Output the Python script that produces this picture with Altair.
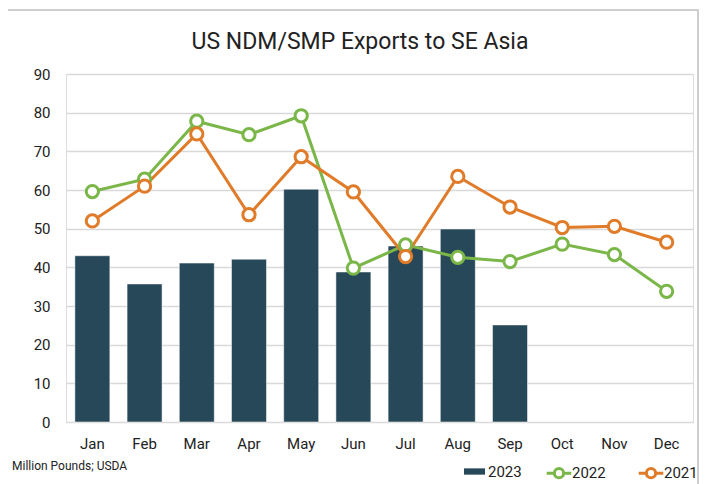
import altair as alt
import pandas as pd

title_text = "US NDM/SMP Exports to SE Asia"
note_text = "Million Pounds; USDA"
months = ["Jan", "Feb", "Mar", "Apr", "May", "Jun", "Jul", "Aug", "Sep", "Oct", "Nov", "Dec"]
v2023 = [43.0, 35.7, 41.1, 42.1, 60.2, 38.8, 45.5, 49.9, 25.1]
v2022 = [59.6, 62.8, 77.8, 74.3, 79.2, 39.8, 45.8, 42.6, 41.5, 46.0, 43.3, 33.8]
v2021 = [52.0, 61.0, 74.5, 53.6, 68.6, 59.5, 42.8, 63.5, 55.6, 50.3, 50.6, 46.5]

bars = pd.DataFrame({"month": months[:len(v2023)], "value": v2023, "series": "2023"})
lines = pd.concat([
    pd.DataFrame({"month": months, "value": v2022, "series": "2022"}),
    pd.DataFrame({"month": months, "value": v2021, "series": "2021"}),
])

FONT = "Roboto"
TXT = "#222222"
BAR = "#274858"
GREEN = "#7ab648"
ORANGE = "#e07b2a"

x = alt.X("month:N", sort=months, title=None,
          scale=alt.Scale(domain=months, paddingInner=0.33, paddingOuter=0.17),
          axis=alt.Axis(labelAngle=0, ticks=False, domain=False, labelPadding=14,
                        labelFontSize=15, labelColor=TXT, labelFont=FONT))
y = alt.Y("value:Q", title=None,
          scale=alt.Scale(domain=[0, 90], nice=False),
          axis=alt.Axis(values=list(range(0, 91, 10)), ticks=False, domain=False,
                        labelPadding=16, labelFontSize=15, labelColor=TXT, labelFont=FONT,
                        gridColor="#d9d9d9", gridWidth=1.5))

bar_layer = alt.Chart(bars).mark_bar(stroke="white", strokeWidth=0.5).encode(
    x=x, y=y,
    fill=alt.Fill("series:N", title=None,
                  scale=alt.Scale(domain=["2023"], range=[BAR]),
                  legend=alt.Legend(orient="none", legendX=398, legendY=387, direction="horizontal",
                                    symbolType="M-1,-0.3 H1 V0.3 H-1 Z", symbolSize=441,
                                    labelOffset=3, labelFontSize=15,
                                    labelFont=FONT, labelColor=TXT, symbolStrokeWidth=0)),
)

stroke_enc = alt.Stroke("series:N", title=None, sort=["2022", "2021"],
                        scale=alt.Scale(domain=["2022", "2021"], range=[GREEN, ORANGE]),
                        legend=alt.Legend(orient="none", legendX=481, legendY=387, direction="horizontal",
                                          symbolType="M-1.2,0 L-0.45,0 M0.45,0 L1.2,0 M-0.45,0 A0.45,0.45 0 1,0 0.45,0 A0.45,0.45 0 1,0 -0.45,0 Z",
                                          symbolSize=420, symbolStrokeWidth=3, symbolFillColor="white",
                                          labelOffset=1, columnPadding=26, labelFontSize=15, labelFont=FONT,
                                          labelColor=TXT))

line_layer = alt.Chart(lines).mark_line(strokeWidth=3).encode(
    x=x, y=y, stroke=stroke_enc, detail="series:N")
point_layer = alt.Chart(lines).mark_point(shape="circle", filled=True, fill="white", size=150,
                                         strokeWidth=3, opacity=1).encode(
    x=x, y=y, stroke=stroke_enc)

frame = alt.Chart(pd.DataFrame({"a": [0]})).mark_rect(fill=None, stroke="#bfbfbf", strokeWidth=1.5).encode(
    x=alt.value(-62), x2=alt.value(632), y=alt.value(-64), y2=alt.value(440))

title = alt.Chart(pd.DataFrame({"t": [title_text]})).mark_text(
    align="center", baseline="middle", fontSize=23, font=FONT, color=TXT).encode(
    text="t:N", x=alt.value(294), y=alt.value(-32))

note = alt.Chart(pd.DataFrame({"t": [note_text]})).mark_text(
    align="left", baseline="middle", fontSize=12, font=FONT, color=TXT).encode(
    text="t:N", x=alt.value(-54), y=alt.value(392))

chart = alt.layer(frame, bar_layer, line_layer, point_layer, title, note).properties(
    width=627, height=348,
    autosize=alt.AutoSizeParams(type="none"),
    padding={"left": 58, "top": 66, "right": 6, "bottom": 62},
).configure_view(stroke=None).configure(background="white")

chart.save("out.html", embed_options={"renderer": "svg", "actions": False})
